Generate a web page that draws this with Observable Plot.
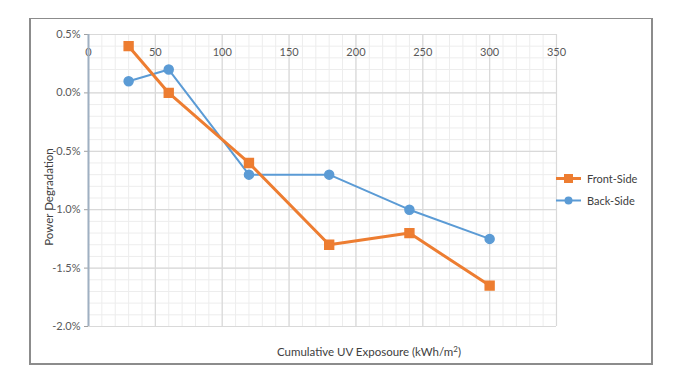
<!DOCTYPE html>
<html>
<head>
<meta charset="utf-8">
<script src="https://cdn.jsdelivr.net/npm/d3@7"></script>
<script src="https://cdn.jsdelivr.net/npm/@observablehq/plot@0.6"></script>
<style>
  body { margin: 0; background: #fff; font-family: Lato, "Open Sans", sans-serif; }
  #wrap { position: relative; width: 683px; height: 387px; overflow: hidden; }
  #border { position: absolute; left: 29px; top: 18px; width: 620px; height: 344px; border: 2px solid #8c8c8c; border-top-width: 1.5px; }
  .title { position: absolute; font-size: 11.5px; color: #404040; white-space: nowrap; }
  #ytitle { left: 48px; top: 197px; transform: translate(-50%, -50%) rotate(-90deg); }
  #xtitle { left: 369px; top: 351px; transform: translate(-50%, -50%); }
  #legend { position: absolute; left: 556px; top: 167px; font-size: 11px; color: #404040; }
  .lrow { display: flex; align-items: center; height: 22px; }
  .lrow svg { margin-right: 6px; }
</style>
</head>
<body>
<div id="wrap">
  <div id="border"></div>
  <div id="chart"></div>
  <div class="title" id="ytitle">Power Degradation</div>
  <div class="title" id="xtitle">Cumulative UV Exposoure (kWh/m<sup style="font-size:8px">2</sup>)</div>
  <div id="legend"></div>
</div>
<script>
const exposure = [30, 60, 120, 180, 240, 300];
const frontSide = [0.4, 0.0, -0.6, -1.3, -1.2, -1.65];
const backSide = [0.1, 0.2, -0.7, -0.7, -1.0, -1.25];
const seriesNames = ["Front-Side", "Back-Side"];
const seriesColors = ["#ED7D31", "#5B9BD5"];
const xTicks = [0, 50, 100, 150, 200, 250, 300, 350];
const yTicks = [0.5, 0.0, -0.5, -1.0, -1.5, -2.0];

const front = exposure.map((x, i) => ({x, y: frontSide[i]}));
const back = exposure.map((x, i) => ({x, y: backSide[i]}));

const chart = Plot.plot({
  width: 683,
  height: 387,
  marginLeft: 88,
  marginRight: 127,
  marginTop: 34,
  marginBottom: 61,
  style: {fontFamily: "Lato, 'Open Sans', sans-serif", fontSize: "11px", color: "#595959", background: "transparent"},
  x: {domain: [0, 350], label: null},
  y: {domain: [-2.0, 0.5], label: null},
  marks: [
    Plot.gridX(d3.range(0, 351, 10), {stroke: "#ededed", strokeOpacity: 1, strokeWidth: 1}),
    Plot.gridY(d3.range(-20, 6, 1).map(d => d / 10), {stroke: "#ededed", strokeOpacity: 1, strokeWidth: 1}),
    Plot.gridX(xTicks, {stroke: "#d9d9d9", strokeOpacity: 1, strokeWidth: 1.2}),
    Plot.gridY(yTicks, {stroke: "#d9d9d9", strokeOpacity: 1, strokeWidth: 1.2}),
    Plot.axisY(yTicks, {anchor: "left", label: null, tickSize: 4, tickPadding: 4, stroke: "#a0a0a0", tickFormat: d => (d < 0 ? "-" : "") + Math.abs(d).toFixed(1) + "%", fill: "#595959", fontSize: 11}),
    Plot.axisX([], {anchor: "top", label: null}),
    Plot.text(xTicks, {x: d => d, frameAnchor: "top", dy: 14, text: d => String(d), fill: "#595959", fontSize: 11}),
    Plot.ruleX([0], {stroke: "#9fb0c2", strokeWidth: 2}),
    Plot.line(back, {x: "x", y: "y", stroke: seriesColors[1], strokeWidth: 2}),
    Plot.dot(back, {x: "x", y: "y", r: 4.5, fill: seriesColors[1], stroke: seriesColors[1]}),
    Plot.line(front, {x: "x", y: "y", stroke: seriesColors[0], strokeWidth: 3}),
    Plot.dot(front, {x: "x", y: "y", symbol: "square", r: 5, fill: seriesColors[0], stroke: seriesColors[0]})
  ]
});
document.getElementById("chart").appendChild(chart);

const legend = document.getElementById("legend");
seriesNames.forEach((name, i) => {
  const row = document.createElement("div");
  row.className = "lrow";
  const marker = i === 0
    ? `<rect x="8" y="3" width="9" height="9" fill="${seriesColors[0]}"/>`
    : `<circle cx="12.5" cy="7.5" r="4" fill="${seriesColors[1]}"/>`;
  row.innerHTML = `<svg width="25" height="15"><line x1="0" x2="25" y1="7.5" y2="7.5" stroke="${seriesColors[i]}" stroke-width="${i === 0 ? 3 : 2}"/>${marker}</svg><span>${name}</span>`;
  legend.appendChild(row);
});
</script>
</body>
</html>
